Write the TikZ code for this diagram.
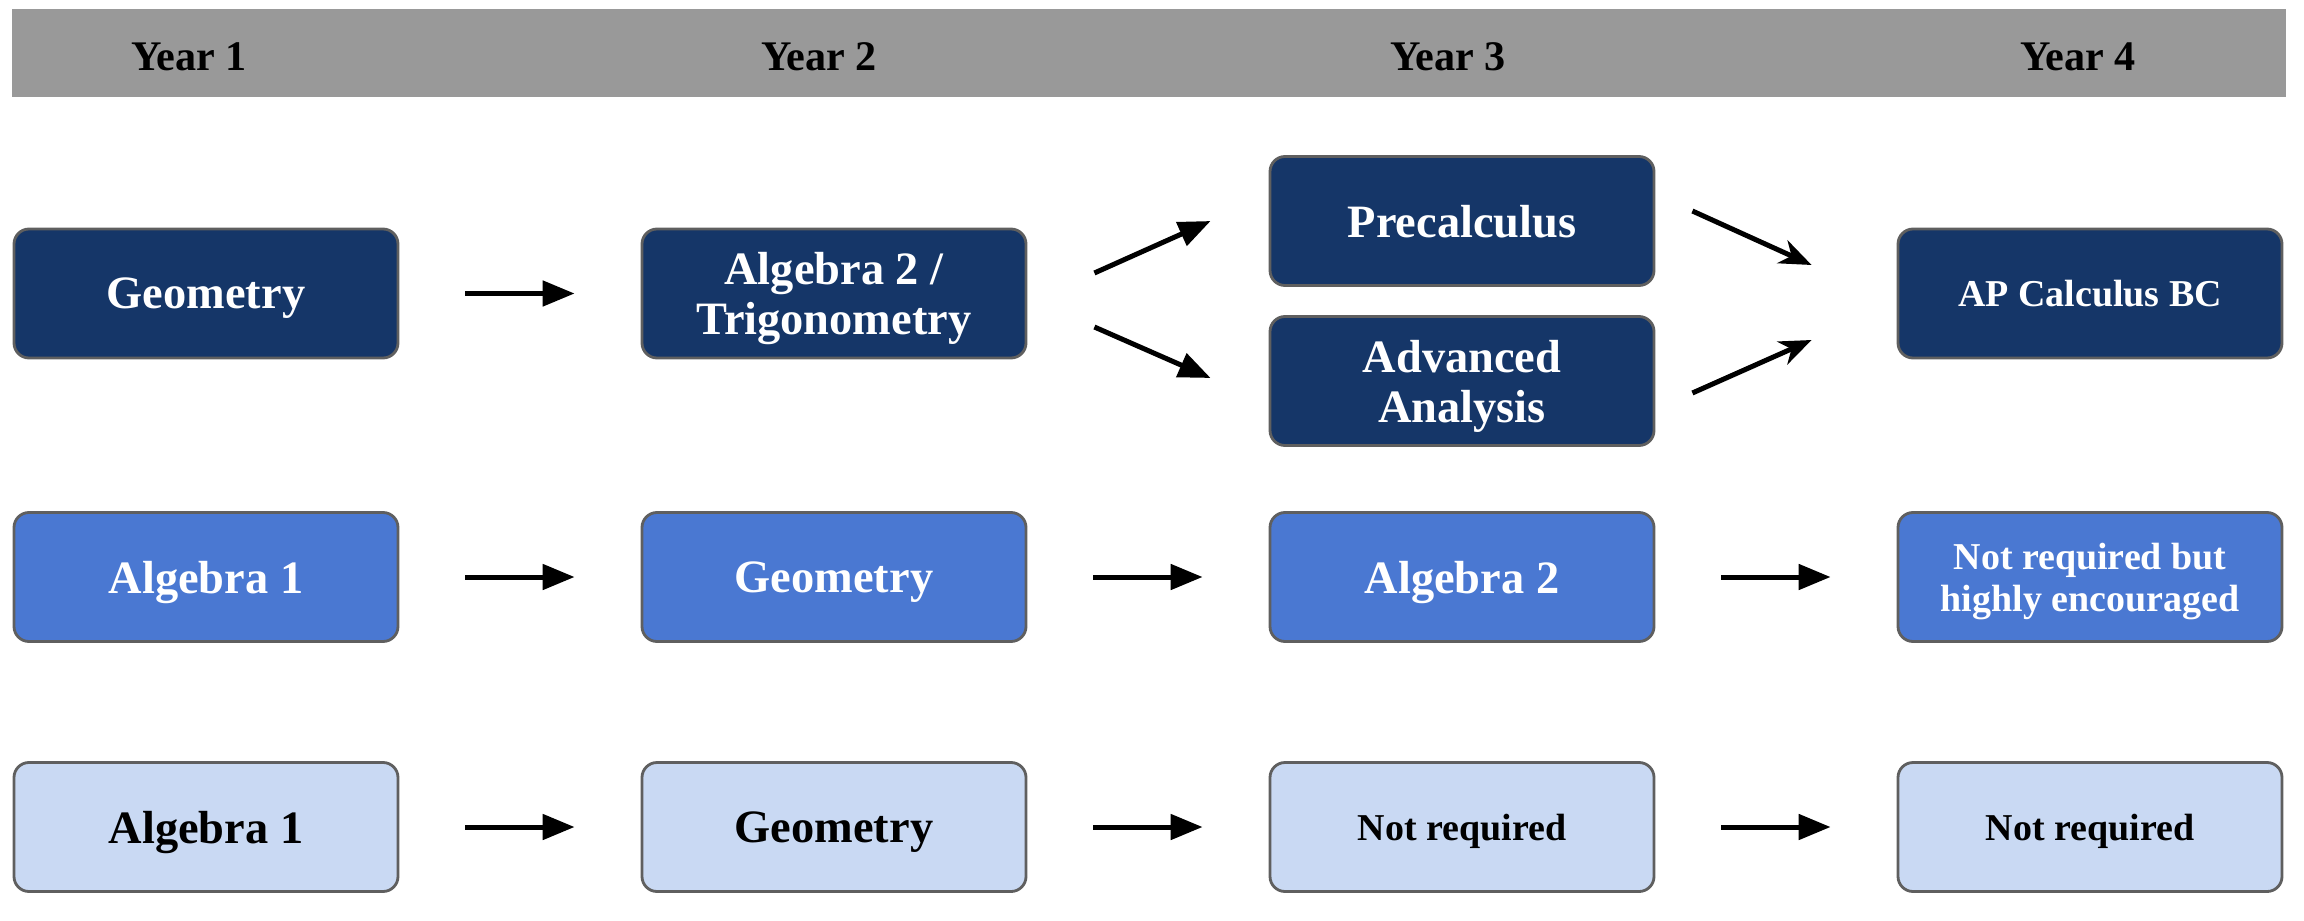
\documentclass[tikz,border=0pt]{standalone}
\usepackage{fontspec}
\setmainfont{Liberation Serif}
\usetikzlibrary{arrows.meta,calc}
\definecolor{navy}{HTML}{153668}
\definecolor{midblue}{HTML}{4A78D2}
\definecolor{paleblue}{HTML}{C9D9F3}
\definecolor{boxborder}{HTML}{5F5F5F}
\definecolor{headergrey}{HTML}{999999}
\tikzset{
	course/.style={draw=boxborder, line width=0.8pt, rounded corners=0.15cm, minimum width=3.84cm, minimum height=1.29cm, align=center, inner sep=2pt, text depth=0pt, font=\bfseries\fontsize{13.2}{14.2}\selectfont},
	honors/.style={course, fill=navy, text=white},
	standard/.style={course, fill=midblue, text=white},
	basic/.style={course, fill=paleblue, text=black},
	smalltext/.style={font=\bfseries\fontsize{10.8}{12}\selectfont},
	yearlabel/.style={font=\bfseries\fontsize{12}{14}\selectfont},
	flow/.style={-{Triangle[length=0.32cm,width=0.25cm]}, line width=0.05cm, shorten >=0.66cm, shorten <=0.66cm},
	branch/.style={-{Triangle[length=0.32cm,width=0.25cm]}, line width=0.05cm},
	merge/.style={-{Stealth[length=0.32cm,width=0.25cm,inset=0.1cm]}, line width=0.05cm}
}
\begin{document}
\begin{tikzpicture}
	\useasboundingbox (0,0) rectangle (23.04,9.2);
	\fill[headergrey] (0.12,8.23) rectangle (22.86,9.11);
	\node[yearlabel] (year1) at (1.89,8.63) {Year 1};
	\node[yearlabel] (year2) at (8.19,8.63) {Year 2};
	\node[yearlabel] (year3) at (14.48,8.63) {Year 3};
	\node[yearlabel] (year4) at (20.78,8.63) {Year 4};

	\node[honors] (geoA) at (2.06,6.265) {Geometry};
	\node[honors] (trigA) at (8.34,6.265) {Algebra 2 /\\Trigonometry};
	\node[honors] (precalcA) at (14.62,6.99) {Precalculus};
	\node[honors] (analysisA) at (14.62,5.39) {Advanced\\Analysis};
	\node[honors, smalltext] (calcA) at (20.90,6.265) {AP Calculus BC};

	\node[standard] (algB) at (2.06,3.43) {Algebra 1};
	\node[standard] (geoB) at (8.34,3.43) {Geometry};
	\node[standard] (alg2B) at (14.62,3.43) {Algebra 2};
	\node[standard, smalltext] (extraB) at (20.90,3.43) {Not required but\\highly encouraged};

	\node[basic] (algC) at (2.06,0.93) {Algebra 1};
	\node[basic] (geoC) at (8.34,0.93) {Geometry};
	\node[basic, smalltext] (noneC) at (14.62,0.93) {Not required};
	\node[basic, smalltext] (noneD) at (20.90,0.93) {Not required};

	\draw[flow] (geoA) -- (trigA);
	\draw[branch] ($(trigA.east)+(0.67,0.205)$) -- ($(precalcA.west)+(-0.58,0)$);
	\draw[branch] ($(trigA.east)+(0.67,-0.335)$) -- ($(analysisA.west)+(-0.58,0.03)$);
	\draw[merge] ($(precalcA.east)+(0.37,0.10)$) -- ($(calcA.west)+(-0.85,0.285)$);
	\draw[merge] ($(analysisA.east)+(0.37,-0.12)$) -- ($(calcA.west)+(-0.85,-0.465)$);

	\draw[flow] (algB) -- (geoB);
	\draw[flow] (geoB) -- (alg2B);
	\draw[flow] (alg2B) -- (extraB);

	\draw[flow] (algC) -- (geoC);
	\draw[flow] (geoC) -- (noneC);
	\draw[flow] (noneC) -- (noneD);
\end{tikzpicture}
\end{document}
